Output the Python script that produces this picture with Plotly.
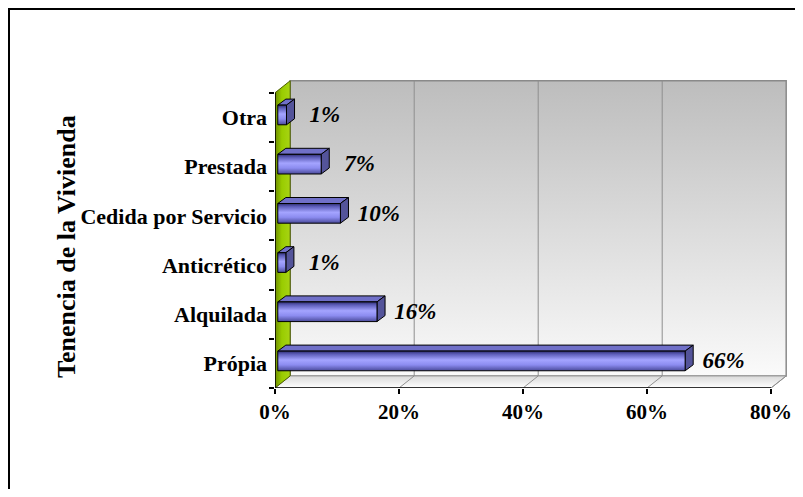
import plotly.graph_objects as go

# ---------------- data ----------------
categories = ["Própia", "Alquilada", "Anticrético", "Cedida por Servicio", "Prestada", "Otra"]
values = [65.7, 16.0, 1.3, 10.1, 7.0, 1.4]
x_ticks = [0, 20, 40, 60, 80]
x_tick_labels = ["0%", "20%", "40%", "60%", "80%"]
axis_title = "Tenencia de la Vivienda"

# ---------------- geometry / style ----------------
PAGE_PAD = 8            # default body margin of the html page
W, H = 803 - 2 * PAGE_PAD, 497 - 2 * PAGE_PAD
ML, MR, MT, MB = 267, 0, 67, 101
PX_PER_UNIT = 6.2
n = len(categories)
XMAX = x_ticks[-1]
X_RANGE = [0, (W - ML - MR) / PX_PER_UNIT]
Y_RANGE = [-0.5, 5.862]
WALL_DX, WALL_DY = 2.45, 0.245
BAR_X0 = 0.45
BAR_OFF = 0.05
BAR_H = 0.2
BAR_DX, BAR_DY = 1.3, 0.122
LABEL_GAP = 6.2
FONT = "Liberation Serif, Times New Roman, serif"

fig = go.Figure()


def poly(xs, ys, **kw):
    fig.add_trace(go.Scatter(x=list(xs) + [xs[0]], y=list(ys) + [ys[0]], mode="lines",
                             fill="toself", hoverinfo="skip", showlegend=False, **kw))


def seg(xs, ys, color, width=1):
    fig.add_trace(go.Scatter(x=xs, y=ys, mode="lines", line=dict(color=color, width=width),
                             hoverinfo="skip", showlegend=False))


y_lo, y_hi = -0.5, n - 0.5

# back wall
poly([WALL_DX, XMAX + WALL_DX, XMAX + WALL_DX, WALL_DX],
     [y_lo + WALL_DY, y_lo + WALL_DY, y_hi + WALL_DY, y_hi + WALL_DY],
     line=dict(color="#8a8a8a", width=1.5),
     fillgradient=dict(type="vertical", colorscale=[[0, "#fafafa"], [1, "#bdbdbd"]]))

# floor
poly([0, XMAX, XMAX + WALL_DX, WALL_DX],
     [y_lo, y_lo, y_lo + WALL_DY, y_lo + WALL_DY],
     line=dict(color="#9a9a9a", width=1),
     fillgradient=dict(type="vertical", colorscale=[[0, "#ffffff"], [1, "#d9d9d9"]]))

# gridlines on back wall and floor
for t in x_ticks[1:-1]:
    seg([t + WALL_DX, t + WALL_DX], [y_lo + WALL_DY, y_hi + WALL_DY], "#8f8f8f", 1)
for t in x_ticks[1:]:
    seg([t, t + WALL_DX], [y_lo, y_lo + WALL_DY], "#8f8f8f", 1)

# left (green) wall
poly([0, 0, WALL_DX, WALL_DX],
     [y_lo, y_hi, y_hi + WALL_DY, y_lo + WALL_DY],
     line=dict(color="#4d5e00", width=1),
     fillgradient=dict(type="horizontal",
                       colorscale=[[0, "#6e8c00"], [0.45, "#99cc00"], [1, "#a8d414"]]))

# axis lines
seg([0, 0], [y_lo, y_hi], "black", 1.5)
seg([0, XMAX], [y_lo, y_lo], "black", 1.5)

# bars
for i, v in enumerate(values):
    yc = i + BAR_OFF
    x0, x1 = BAR_X0, BAR_X0 + v
    yb, yt = yc - BAR_H, yc + BAR_H
    # top face
    poly([x0, x1, x1 + BAR_DX, x0 + BAR_DX], [yt, yt, yt + BAR_DY, yt + BAR_DY],
         line=dict(color="black", width=1), fillcolor="#7070c8")
    # side face
    poly([x1, x1 + BAR_DX, x1 + BAR_DX, x1], [yb, yb + BAR_DY, yt + BAR_DY, yt],
         line=dict(color="black", width=1), fillcolor="#54549a")
    # front face
    poly([x0, x1, x1, x0], [yb, yb, yt, yt],
         line=dict(color="black", width=1),
         fillgradient=dict(type="vertical",
                           colorscale=[[0, "#4a4a9a"], [0.3, "#8c8cf0"], [0.55, "#a4a4ff"],
                                       [0.85, "#5c5cb8"], [1, "#2e2e70"]]))

# data labels
fig.add_trace(go.Scatter(
    x=[BAR_X0 + v + LABEL_GAP for v in values],
    y=[i + BAR_OFF - 0.03 for i in range(n)],
    mode="text",
    text=[f"<b><i>{round(v)}%</i></b>" for v in values],
    textposition="middle center",
    textfont=dict(family=FONT, size=23, color="black"),
    hoverinfo="skip", showlegend=False, cliponaxis=False))


def px_to_paper_x(p):
    # p: screenshot pixel
    return (p - PAGE_PAD - ML) / (W - ML - MR)


def px_to_paper_y(p):
    return (H - MB - (p - PAGE_PAD)) / (H - MT - MB)


fig.update_layout(
    width=W, height=H,
    margin=dict(l=ML, r=MR, t=MT, b=MB, pad=0),
    paper_bgcolor="white", plot_bgcolor="white",
    hovermode=False,
    xaxis=dict(range=X_RANGE, tickmode="array", tickvals=x_ticks, ticktext=x_tick_labels,
               ticks="outside", ticklen=5, tickcolor="black", tickwidth=1.5,
               showgrid=False, zeroline=False, showline=False, fixedrange=True,
               tickfont=dict(family=FONT, size=21, color="black", weight="bold")),
    yaxis=dict(range=Y_RANGE, tickmode="array", tickvals=list(range(n)), ticktext=categories,
               ticks="", ticklabelstandoff=7,
               minor=dict(tickmode="array", tickvals=[k - 0.5 for k in range(n + 1)],
                          ticks="outside", ticklen=5, tickcolor="black", tickwidth=1.5,
                          showgrid=False),
               showgrid=False, zeroline=False, showline=False, fixedrange=True,
               tickfont=dict(family=FONT, size=22, color="black", weight="bold")),
    annotations=[dict(text=f"<b>{axis_title}</b>", textangle=-90, showarrow=False,
                      xref="paper", yref="paper", x=px_to_paper_x(66), y=px_to_paper_y(247),
                      xanchor="center", yanchor="middle",
                      font=dict(family=FONT, size=26, color="black"))],
    shapes=[dict(type="rect", xref="paper", yref="paper",
                 x0=px_to_paper_x(9), x1=px_to_paper_x(803 + 20),
                 y0=px_to_paper_y(497 + 20), y1=px_to_paper_y(PAGE_PAD + 1),
                 line=dict(color="black", width=2), fillcolor="rgba(0,0,0,0)", layer="above")],
)

fig.write_html("out.html")
